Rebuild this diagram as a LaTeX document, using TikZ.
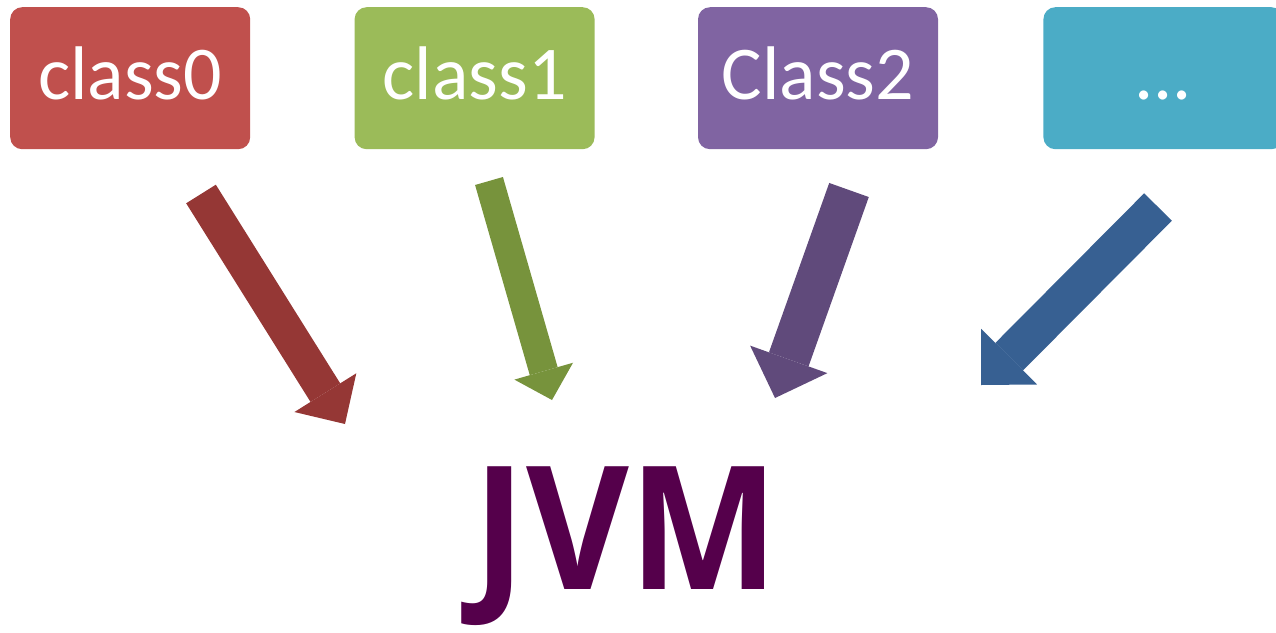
\documentclass[tikz,border=0pt]{standalone}
\usepackage{fontspec}
\setmainfont{Carlito}
\newfontfamily\jvmfont{Open Sans}
\usepackage{tikz}
\usetikzlibrary{arrows.meta,positioning}
\definecolor{boxred}{RGB}{192,80,77}
\definecolor{boxgreen}{RGB}{155,187,89}
\definecolor{boxpurple}{RGB}{128,100,162}
\definecolor{boxcyan}{RGB}{75,172,198}
\definecolor{arrowred}{RGB}{149,55,53}
\definecolor{arrowgreen}{RGB}{119,147,60}
\definecolor{arrowpurple}{RGB}{96,74,123}
\definecolor{arrowblue}{RGB}{55,96,146}
\definecolor{jvmpurple}{RGB}{85,0,75}
\tikzstyle{box} = [rounded corners=12pt, minimum width=240pt, minimum height=142pt, inner sep=0pt, text=white, text height=51pt, text depth=9pt, font=\fontsize{76}{80}\selectfont]
\tikzset{flow/.style n args={3}{line width=#1, -{Triangle[width=#2, length=#3, line width=0pt]}}}

\begin{document}
\begin{tikzpicture}[x=1pt,y=-1pt]
\clip (0,0) rectangle (1276,632);
% Class files
\node[box, fill=boxred, anchor=north west] (c0) at (10,7) {class0};
\node[box, fill=boxgreen, right=104pt of c0] (c1) {class1};
\node[box, fill=boxpurple, right=103pt of c1] (c2) {Class2};
\node[box, fill=boxcyan, right=105pt of c2] (cn) {...};

% Loaded into the JVM
\node[font=\jvmfont\bfseries\fontsize{172}{176}\selectfont, text=jvmpurple, anchor=base, inner sep=0pt] (jvm) at (626,589) {\scalebox{0.92}[1]{JVM}};

% Arrows
\coordinate (s0) at (201,194);
\coordinate (t0) at (345,424);
\coordinate (s1) at (489,181);
\coordinate (t1) at (552,400);
\coordinate (s2) at (849,190);
\coordinate (t2) at (775,398);
\coordinate (sn) at (1158,207);
\coordinate (tn) at (981,385);
\draw[flow={35pt}{73pt}{37pt}, arrowred] (s0) -- (t0);
\draw[flow={29pt}{61pt}{30pt}, arrowgreen] (s1) -- (t1);
\draw[flow={42pt}{82pt}{41pt}, arrowpurple] (s2) -- (t2);
\draw[flow={39pt}{79pt}{40pt}, arrowblue] (sn) -- (tn);
\end{tikzpicture}
\end{document}
